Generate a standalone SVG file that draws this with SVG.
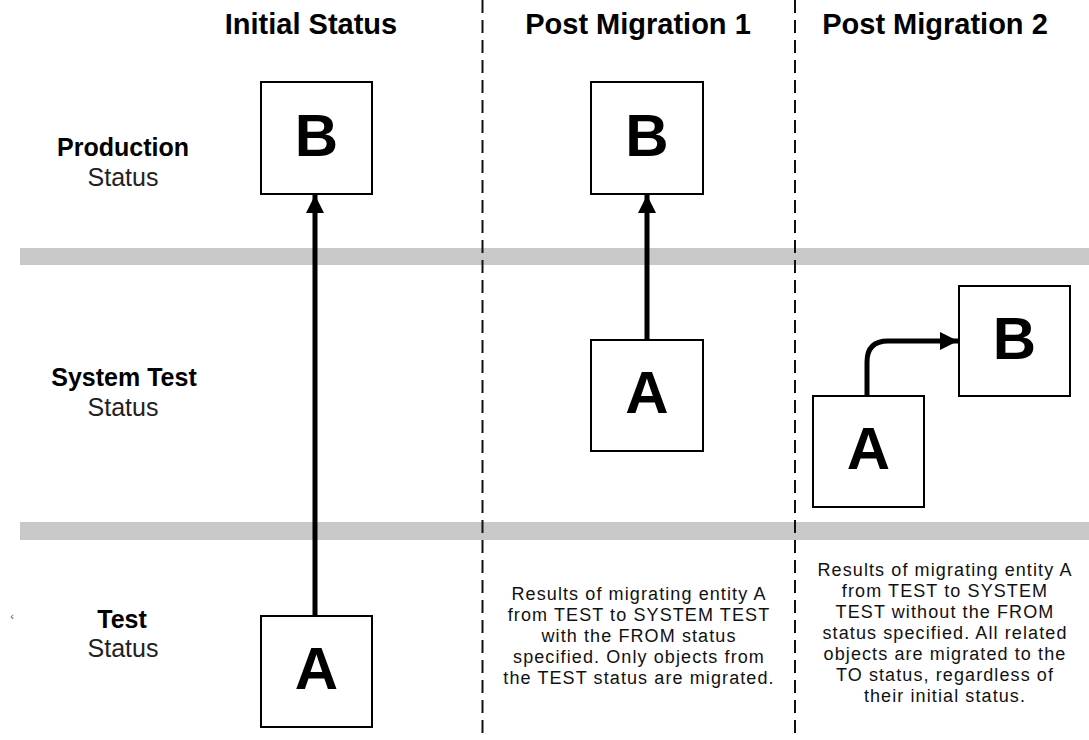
<svg xmlns="http://www.w3.org/2000/svg" width="1089" height="740" viewBox="0 0 1089 740">
  <defs>
    <style>
      .hdr { font-family: "Liberation Sans", Arial, sans-serif; font-weight: bold; font-size: 29px; fill: #000; text-anchor: middle; }
      .row { font-family: "Liberation Sans", Arial, sans-serif; font-weight: bold; font-size: 25px; fill: #000; text-anchor: middle; }
      .sub { font-family: "Liberation Sans", Arial, sans-serif; font-size: 25px; fill: #222; text-anchor: middle; }
      .box { fill: #fff; stroke: #000; stroke-width: 2; }
      .letter { font-family: "Liberation Sans", Arial, sans-serif; font-weight: bold; font-size: 60px; fill: #000; text-anchor: middle; }
      .note { font-family: "Liberation Sans", Arial, sans-serif; font-size: 18px; letter-spacing: 1.1px; fill: #111; text-anchor: middle; }
      .band { fill: #c8c8c8; }
      .divider { stroke: #111; stroke-width: 2; stroke-dasharray: 13 7; fill: none; }
      .link { stroke: #000; stroke-width: 5; fill: none; }
    </style>
    <marker id="head" markerUnits="userSpaceOnUse" markerWidth="18" markerHeight="18" viewBox="0 0 16 16" refX="16" refY="8" orient="auto">
      <path d="M0,0 L16,8 L0,16 Z" fill="#000"/>
    </marker>
  </defs>
  <rect width="1089" height="740" fill="#fff"/>

  <!-- level separators -->
  <rect class="band" x="20" y="248" width="1069" height="17"/>
  <rect class="band" x="20" y="522" width="1069" height="18"/>

  <!-- column separators -->
  <line class="divider" x1="482.5" y1="0" x2="482.5" y2="740"/>
  <line class="divider" x1="795" y1="0" x2="795" y2="740"/>

  <!-- column headers -->
  <g id="headers">
    <text class="hdr" x="311" y="34">Initial Status</text>
    <text class="hdr" x="638" y="34">Post Migration 1</text>
    <text class="hdr" x="935" y="34">Post Migration 2</text>
  </g>

  <!-- row labels -->
  <g id="row-production">
    <text class="row" x="123" y="156">Production</text>
    <text class="sub" x="123" y="186">Status</text>
  </g>
  <g id="row-systemtest">
    <text class="row" x="124" y="386">System Test</text>
    <text class="sub" x="123" y="416">Status</text>
  </g>
  <g id="row-test">
    <text class="row" x="122" y="628">Test</text>
    <text class="sub" x="123" y="657">Status</text>
    <text x="12" y="620" font-family="Liberation Sans, Arial, sans-serif" font-size="11" fill="#555" text-anchor="middle">‹</text>
  </g>

  <!-- connectors -->
  <g id="connectors">
    <line class="link" x1="315" y1="616" x2="315" y2="195" marker-end="url(#head)"/>
    <line class="link" x1="647" y1="340" x2="647" y2="195" marker-end="url(#head)"/>
    <path class="link" d="M867,396 L867,362 Q867,341 888,341 L958,341" marker-end="url(#head)"/>
  </g>

  <!-- initial status -->
  <g id="initial-b">
    <rect class="box" x="261" y="82" width="111" height="112"/>
    <text class="letter" x="316.5" y="156">B</text>
  </g>
  <g id="initial-a">
    <rect class="box" x="261" y="616" width="111" height="111"/>
    <text class="letter" x="316.5" y="689">A</text>
  </g>

  <!-- post migration 1 -->
  <g id="pm1-b">
    <rect class="box" x="591" y="82" width="112" height="112"/>
    <text class="letter" x="647" y="156">B</text>
  </g>
  <g id="pm1-a">
    <rect class="box" x="591" y="340" width="112" height="111"/>
    <text class="letter" x="647" y="413">A</text>
  </g>

  <!-- post migration 2 -->
  <g id="pm2-a">
    <rect class="box" x="813" y="396" width="111" height="111"/>
    <text class="letter" x="868.5" y="469">A</text>
  </g>
  <g id="pm2-b">
    <rect class="box" x="959" y="286" width="111" height="110"/>
    <text class="letter" x="1014.5" y="359">B</text>
  </g>

  <!-- explanatory notes -->
  <g id="note-pm1">
    <text class="note" x="639" y="600">Results of migrating entity A</text>
    <text class="note" x="639" y="621">from TEST to SYSTEM TEST</text>
    <text class="note" x="639" y="642">with the FROM status</text>
    <text class="note" x="639" y="663">specified. Only objects from</text>
    <text class="note" x="639" y="684">the TEST status are migrated.</text>
  </g>
  <g id="note-pm2">
    <text class="note" x="945" y="576">Results of migrating entity A</text>
    <text class="note" x="945" y="597">from TEST to SYSTEM</text>
    <text class="note" x="945" y="618">TEST without the FROM</text>
    <text class="note" x="945" y="639">status specified. All related</text>
    <text class="note" x="945" y="660">objects are migrated to the</text>
    <text class="note" x="945" y="681">TO status, regardless of</text>
    <text class="note" x="945" y="702">their initial status.</text>
  </g>
</svg>
